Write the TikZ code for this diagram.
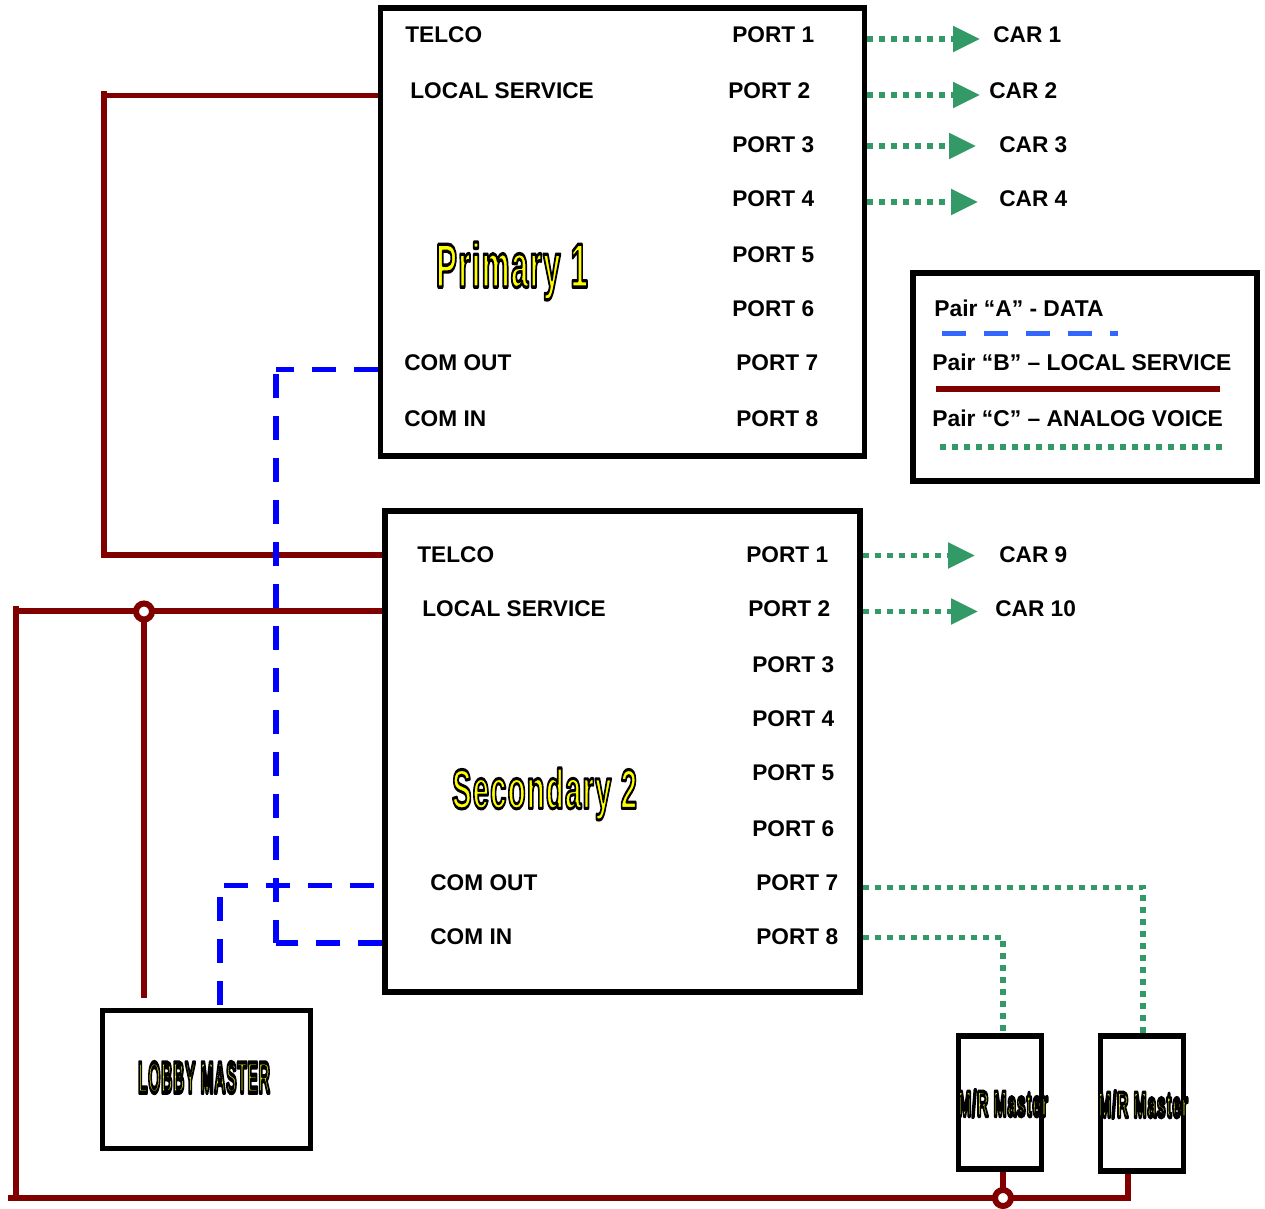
\documentclass[tikz,border=0pt]{standalone}
\usepackage{fontspec}
\setmainfont{Liberation Sans}
\usepackage{graphicx}
\usepackage{tikz}
\usetikzlibrary{arrows.meta,positioning}
\definecolor{wirered}{HTML}{800000}
\definecolor{wiregreen}{HTML}{339966}
\definecolor{keyblue}{HTML}{3366FF}
\newcommand{\plate}[4]{\resizebox*{#1}{#2}{\special{pdf:code q 2 Tr 1 j #4 w 0 0 0 RG 1 1 0 rg}\bfseries\addfontfeatures{LetterSpace=4}#3\special{pdf:code Q}}}
\begin{document}
\begin{tikzpicture}[x=0.02cm,y=-0.02cm,>=Stealth,
 box/.style={draw,line width=0.11cm,outer sep=0.055cm,inner sep=0pt,fill=white},
 lbl/.style={anchor=base west,inner sep=0pt,font=\bfseries\fontsize{12.9}{15}\selectfont},
 keylbl/.style={anchor=base west,inner sep=0pt,font=\bfseries\fontsize{13}{15}\selectfont},
 title/.style={inner sep=0pt},
 localwire/.style={draw=wirered,line width=0.115cm},
 datawire/.style={draw=blue,line width=0.115cm,dash pattern=on 0.48cm off 0.36cm},
 voicewire/.style={draw=wiregreen,line width=0.11cm,dash pattern=on 0.12cm off 0.12cm},
 voicearrow/.style={voicewire,-{Triangle[length=0.54cm,width=0.5cm,fill=wiregreen]}},
 tap/.style={circle,draw=wirered,fill=white,line width=0.12cm,minimum size=0.32cm,inner sep=0pt,outer sep=0pt}]
\useasboundingbox (0,0) rectangle (1265,1209);
\node[box,minimum width=9.68cm,minimum height=8.96cm] (pri) at (622.5,232) {};
\node[box,minimum width=9.5cm,minimum height=9.62cm] (sec) at (622.5,751.5) {};
\node[box,minimum width=6.88cm,minimum height=4.16cm] (key) at (1085,377) {};
\node[box,minimum width=4.16cm,minimum height=2.76cm] (lobby) at (206.5,1079.5) {};
\node[box,minimum width=1.66cm,minimum height=2.66cm] (mra) at (1000,1102.5) {};
\node[box,minimum width=1.66cm,minimum height=2.7cm] (mrb) at (1142,1103.5) {};
\node[title] (pritxt) at (512,271) {\plate{3.04cm}{1.16cm}{Primary 1}{0.55}};
\node[title] (sectxt) at (544.5,794) {\plate{3.7cm}{1.04cm}{Secondary 2}{0.55}};
\node[title] (lobtxt) at (204,1077.5) {\plate{2.64cm}{0.62cm}{LOBBY MASTER}{1.0}};
\node[title] (mratxt) at (1003,1103.5) {\plate{1.8cm}{0.54cm}{M/R Master}{1.0}};
\node[title] (mrbtxt) at (1143,1104.5) {\plate{1.8cm}{0.54cm}{M/R Master}{1.0}};
\node[lbl] (pa) at (405,43) {TELCO};
\node[lbl] (pb) at (410,99) {LOCAL SERVICE};
\node[lbl] (pc) at (404,371) {COM OUT};
\node[lbl] (pd) at (404,427) {COM IN};
\node[lbl] (pp1) at (732,43) {PORT 1};
\node[lbl] (pp2) at (728,99) {PORT 2};
\node[lbl] (pp3) at (732,153) {PORT 3};
\node[lbl] (pp4) at (732,207) {PORT 4};
\node[lbl] (pp5) at (732,263) {PORT 5};
\node[lbl] (pp6) at (732,317) {PORT 6};
\node[lbl] (pp7) at (736,371) {PORT 7};
\node[lbl] (pp8) at (736,427) {PORT 8};
\node[lbl] (car1) at (993,43) {CAR 1};
\node[lbl] (car2) at (989,99) {CAR 2};
\node[lbl] (car3) at (999,153) {CAR 3};
\node[lbl] (car4) at (999,207) {CAR 4};
\node[lbl] (sa) at (417,562) {TELCO};
\node[lbl] (sb) at (422,616) {LOCAL SERVICE};
\node[lbl] (sc) at (430,890) {COM OUT};
\node[lbl] (sd) at (430,944) {COM IN};
\node[lbl] (sp1) at (746,562) {PORT 1};
\node[lbl] (sp2) at (748,616) {PORT 2};
\node[lbl] (sp3) at (752,672) {PORT 3};
\node[lbl] (sp4) at (752,726) {PORT 4};
\node[lbl] (sp5) at (752,780) {PORT 5};
\node[lbl] (sp6) at (752,836) {PORT 6};
\node[lbl] (sp7) at (756,890) {PORT 7};
\node[lbl] (sp8) at (756,944) {PORT 8};
\node[lbl] (car9) at (999,562) {CAR 9};
\node[lbl] (car10) at (995,616) {CAR 10};
\node[keylbl] (keya) at (934,317) {Pair “A” - DATA};
\node[keylbl] (keyb) at (932,371) {Pair “B” – LOCAL SERVICE};
\node[keylbl] (keyc) at (932,427) {Pair “C” – ANALOG VOICE};
\coordinate (t1) at (980,39);
\coordinate (t2) at (980,95);
\coordinate (t3) at (976,146);
\coordinate (t4) at (978,202);
\coordinate (t9) at (975,555.5);
\coordinate (t10) at (978,611.5);
\draw[voicearrow] (t1 -| pri.east) -- (t1);
\draw[voicearrow] (t2 -| pri.east) -- (t2);
\draw[voicearrow] (t3 -| pri.east) -- (t3);
\draw[voicearrow] (t4 -| pri.east) -- (t4);
\draw[voicearrow] (t9 -| sec.east) -- (t9);
\draw[voicearrow] (t10 -| sec.east) -- (t10);
\coordinate (v7) at (1143,887.5);
\coordinate (v8) at (1003,937.5);
\draw[voicewire] (v7 -| sec.east) -- (v7) -- (v7 |- mrb.north);
\draw[voicewire] (v8 -| sec.east) -- (v8) -- (v8 |- mra.north);
\coordinate (la) at (104,95.5);
\coordinate (lb) at (104,555);
\coordinate (lg) at (104,91);
\coordinate (lh) at (104,558);
\draw[localwire] (la -| pri.west) -- (la);
\draw[localwire] (lg) -- (lh);
\draw[localwire] (lb) -- (lb -| sec.west);
\coordinate (lc) at (16,611);
\coordinate (li) at (16,606);
\coordinate (ld) at (16,1198);
\coordinate (lj) at (8,1198);
\coordinate (le) at (1128,1198);
\coordinate (lf) at (144,998);
\draw[localwire] (lc -| sec.west) -- (lc);
\draw[localwire] (li) -- (ld);
\draw[localwire] (lj) -- (le) -- (le |- mrb.south);
\node[tap] (tapa) at (144,611.5) {};
\draw[localwire] (tapa) -- (lf);
\node[tap] (tapb) at (1003,1198) {};
\draw[localwire] (tapb) -- (tapb |- mra.south);
\coordinate (da) at (276,369.5);
\coordinate (df) at (276,374);
\coordinate (db) at (276,943);
\draw[datawire] (da -| pri.west) -- (da);
\draw[datawire] (df) -- (db);
\draw[datawire] (db -| sec.west) -- (db);
\coordinate (dc) at (374,885.5);
\coordinate (dd) at (223,885.5);
\coordinate (de) at (220,897);
\coordinate (dg) at (220,1005);
\draw[datawire] (dc) -- (dd);
\draw[datawire] (de) -- (dg);
\coordinate (ka) at (942,333.5);
\coordinate (kb) at (1118,333.5);
\coordinate (kc) at (936,389);
\coordinate (kd) at (1220,389);
\coordinate (ke) at (940,447);
\coordinate (kf) at (1222,447);
\draw[draw=keyblue,line width=0.11cm,dash pattern=on 0.48cm off 0.36cm] (ka) -- (kb);
\draw[localwire] (kc) -- (kd);
\draw[voicewire] (ke) -- (kf);
\end{tikzpicture}
\end{document}
